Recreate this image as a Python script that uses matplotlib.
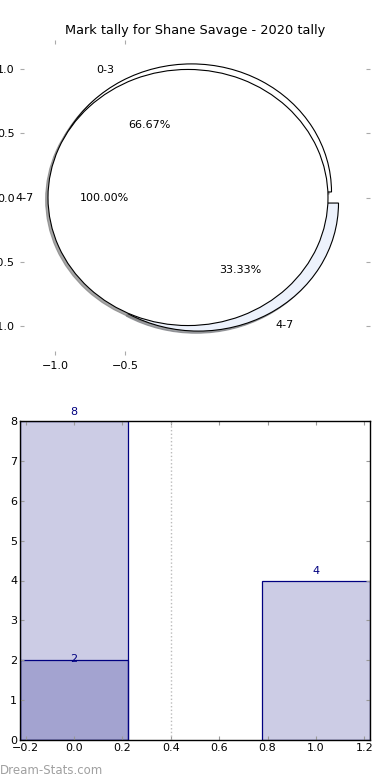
import matplotlib
matplotlib.use('Agg')
import matplotlib.pyplot as plt

# tally data
groups = ['0-3', '4-7']
tally_all = [8, 4]
tally_inner = [2]
inner_labels = ['4-7']

bar_x = [0, 1]
bar_x_inner = [0]

title = 'Mark tally for Shane Savage - 2020 tally'
navy = '#000080'

plt.rcParams['font.family'] = 'DejaVu Sans'
plt.rcParams['font.size'] = 8

fig = plt.figure(figsize=(3.9, 7.8), dpi=100)

shadow = {'ox': -0.012, 'oy': -0.012, 'shade': 0.5, 'alpha': 0.7}

# --- pie ---
ax1 = fig.add_axes([20/390, 1-355/780, 350/390, 315/780])
ax1.pie(tally_all, labels=groups, explode=[0.05]*len(tally_all), autopct='%.2f%%',
        shadow=shadow, colors=['white', '#edf2fc'],
        wedgeprops={'linewidth': 0.8, 'edgecolor': 'black'},
        textprops={'fontsize': 8})
ax1.pie(tally_inner, labels=inner_labels, explode=[0.05], autopct='%.2f%%',
        shadow=shadow, colors=['white'],
        wedgeprops={'linewidth': 0.8, 'edgecolor': 'black'},
        textprops={'fontsize': 8})
ax1.set_aspect('auto')
ax1.set_frame_on(False)
ax1.set_xlim(-1.25, 1.25)
ax1.set_ylim(-1.23, 1.23)
ax1.set_xticks([-1.0, -0.5])
ax1.set_yticks([-1.0, -0.5, 0.0, 0.5, 1.0])
ax1.tick_params(direction='in', length=3, color='#aaaaaa', labelsize=8,
                top=True, right=True, pad=4)
ax1.set_title(title, fontsize=9.3, pad=4)

# --- bars ---
ax2 = fig.add_axes([20/390, 1-740/780, 350/390, 319/780])
ax2.bar(bar_x, tally_all, width=0.445, color=navy, alpha=0.2, edgecolor='none')
ax2.bar(bar_x, tally_all, width=0.445, fill=False, edgecolor=navy, linewidth=0.9)
ax2.bar(bar_x_inner, tally_inner, width=0.445, color=navy, alpha=0.2, edgecolor='none')
ax2.bar(bar_x_inner, tally_inner, width=0.445, fill=False, edgecolor=navy, linewidth=0.9)
for x, h in zip(bar_x, tally_all):
    ax2.annotate(str(h), (x, h), xytext=(0, 3), textcoords='offset points',
                 ha='center', va='bottom', color=navy, fontsize=8)
for x, h in zip(bar_x_inner, tally_inner):
    ax2.annotate(str(h), (x, h), xytext=(0, 1), textcoords='offset points',
                 ha='center', va='center', color=navy, fontsize=8)
ax2.axvline(0.4, color='#bbbbbb', linestyle=':', linewidth=1)
ax2.set_xlim(-0.223, 1.223)
ax2.set_ylim(0, 8)
ax2.set_xticks([-0.2, 0.0, 0.2, 0.4, 0.6, 0.8, 1.0, 1.2])
ax2.set_yticks(range(0, 9))
ax2.tick_params(direction='in', length=3, color='#999999', labelsize=8,
                top=True, right=True, pad=2)
for s in ax2.spines.values():
    s.set_linewidth(1.0)

fig.text(0.0, 1-770/780, 'Dream-Stats.com', fontsize=8.5, color='#a0a0a0',
         ha='left', va='center')

fig.savefig('out.png', dpi=100)
